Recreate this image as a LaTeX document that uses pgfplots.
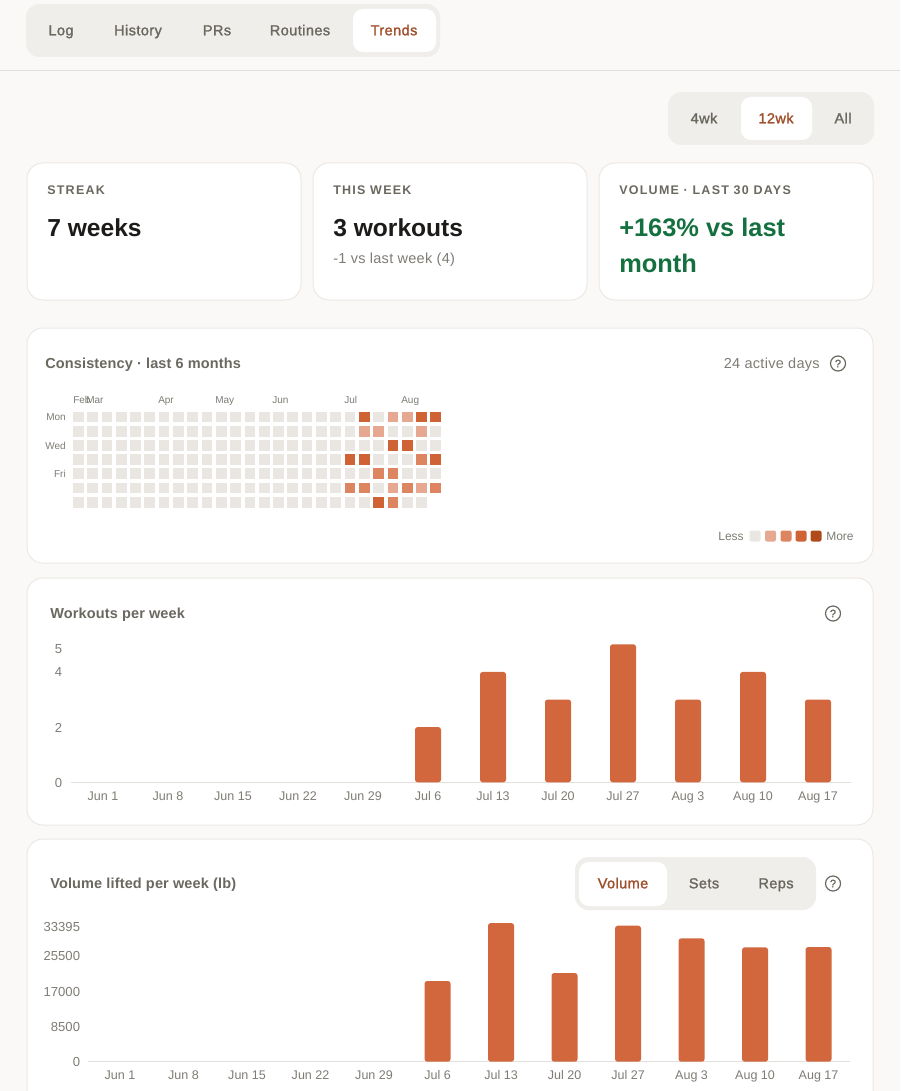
\documentclass[border=0pt]{standalone}
\usepackage{fontspec}
\usepackage{pgfplots}
\pgfplotsset{compat=1.18}
\setmainfont{Liberation Sans}
\newfontfamily\capsf[LetterSpace=10]{Liberation Sans}
\newfontfamily\titf[LetterSpace=1]{Liberation Sans}
\newfontfamily\regf[LetterSpace=2]{Liberation Sans}
\newfontfamily\medf[LetterSpace=3,FakeBold=1.5]{Liberation Sans}
\definecolor{pagebg}{HTML}{FAF9F7}
\definecolor{cardline}{HTML}{ECE9E5}
\definecolor{axline}{HTML}{E3E0DB}
\definecolor{pillbg}{HTML}{EFEEEA}
\definecolor{txt}{HTML}{6B6860}
\definecolor{soft}{HTML}{7F7C75}
\definecolor{accent}{HTML}{A04F2B}
\definecolor{ink}{HTML}{1C1B19}
\definecolor{grn}{HTML}{15703F}
\definecolor{barc}{HTML}{D2663D}
\definecolor{lz}{HTML}{EAE7E2}
\definecolor{la}{HTML}{E6A891}
\definecolor{lb}{HTML}{DD8460}
\definecolor{lc}{HTML}{CF6335}
\definecolor{ld}{HTML}{B04A1B}
\newcommand\T[6]{\node[anchor=#1,inner sep=0pt,text=#5] at (#2,#3) {\fontsize{\fpeval{#4*0.75}pt}{\fpeval{#4*0.9}pt}\selectfont #6};}
\newcommand\Card[4]{\draw[cardline,fill=white,line width=0.75pt,rounded corners=12pt] (#1,#2) rectangle (#3,#4);}
\newcommand\Help[2]{\draw[txt,line width=0.9pt] (#1,#2) circle (7.5);\T{base}{#1}{#2+3.9}{11}{txt}{\medf ?}}
\newcommand\low[1]{\raisebox{-3pt}[\height][\depth]{#1}}
\pgfdeclareplotmark{rsq}{\pgfsetcornersarced{\pgfpoint{1.8pt}{1.8pt}}\pgfpathrectangle{\pgfpoint{-4pt}{-4pt}}{\pgfpoint{8pt}{8pt}}\pgfusepathqfill}
\pgfplotsset{barchart/.style={
  scale only axis, clip=false, anchor=south west,
  axis x line*=bottom, axis y line*=left,
  x axis line style={draw=axline,line width=0.75pt,-},
  y axis line style={draw=none},
  tick style={draw=none}, major tick length=0pt,
  scaled y ticks=false,
  xmin=-0.5, xmax=11.5, ymin=0, xtick={0,...,11},
  xticklabels={Jun 1,Jun 8,Jun 15,Jun 22,Jun 29,Jul 6,Jul 13,Jul 20,Jul 27,Aug 3,Aug 10,Aug 17},
  xticklabel style={font=\fontsize{9.4pt}{11pt}\selectfont,text=soft,inner sep=0pt,anchor=base,yshift=-13.5pt},
  yticklabel style={font=\fontsize{9.8pt}{11pt}\selectfont,text=soft,inner sep=0pt,anchor=east,xshift=-6pt,yshift=-0.3pt},
}}
\begin{document}
\begin{tikzpicture}[x=0.75pt,y=-0.75pt]
\clip[use as bounding box] (0,0) rectangle (900,1091);
\fill[pagebg] (0,0) rectangle (900,1091);
% nav
\draw[axline,line width=0.75pt] (0,70.5) -- (900,70.5);
\fill[pillbg,rounded corners=10pt] (26,4) rectangle (440,57);
\fill[white,rounded corners=7.5pt] (353,9) rectangle (436,52);
\T{base}{61}{35.3}{14.5}{txt}{\medf Log}
\T{base}{138}{35.3}{14.5}{txt}{\medf History}
\T{base}{217}{35.3}{14.5}{txt}{\medf PRs}
\T{base}{300}{35.3}{14.5}{txt}{\medf Routines}
\T{base}{394}{35.3}{14.5}{accent}{\medf Trends}
% range pill
\fill[pillbg,rounded corners=10pt] (668,92) rectangle (874,145);
\fill[white,rounded corners=7.5pt] (741,97) rectangle (812,140);
\T{base}{704}{123.3}{14.5}{txt}{\medf 4wk}
\T{base}{776}{123.3}{14.5}{accent}{\medf 12wk}
\T{base}{843}{123.3}{14.5}{txt}{\medf All}
% stat cards
\Card{27}{163}{301}{300}
\Card{313}{163}{587}{300}
\Card{599}{163}{873}{300}
\T{base west}{47}{195}{12.5}{txt}{\capsf\bfseries STREAK}
\T{base west}{333}{195}{12.5}{txt}{\capsf\bfseries THIS WEEK}
\T{base west}{619}{195}{12.5}{txt}{\capsf\bfseries VOLUME · LAST 30 DAYS}
\T{base west}{47}{236.5}{24.6}{ink}{\bfseries 7 weeks}
\T{base west}{333}{236.5}{24.6}{ink}{\bfseries 3 workouts}
\T{base west}{333}{263}{14.5}{soft}{\regf -1 vs last week (4)}
\T{base west}{619}{236.5}{25.4}{grn}{\bfseries +163\% vs last}
\T{base west}{619}{272.5}{25.4}{grn}{\bfseries month}
% consistency card
\Card{27}{328}{873}{563}
\T{base west}{45}{368}{14.5}{txt}{\titf\bfseries Consistency · last 6 months}
\T{base east}{820}{368.5}{14.5}{soft}{\regf 24 active days}
\Help{838}{363.5}
\T{base west}{73}{403.5}{10}{soft}{Feb}
\T{base west}{86}{403.5}{10}{soft}{Mar}
\T{base west}{158}{403.5}{10}{soft}{Apr}
\T{base west}{215}{403.5}{10}{soft}{May}
\T{base west}{272}{403.5}{10}{soft}{Jun}
\T{base west}{344}{403.5}{10}{soft}{Jul}
\T{base west}{401}{403.5}{10}{soft}{Aug}
\T{base east}{66}{420.5}{10}{soft}{Mon}
\T{base east}{66}{449}{10}{soft}{Wed}
\T{base east}{66}{477.5}{10}{soft}{Fri}
\begin{axis}[at={(53.36pt,-381.98pt)},anchor=south west,scale only axis,
  width=278.85pt,height=74.55pt,hide axis,clip=false,
  xmin=-0.5,xmax=25.5,ymin=-0.5,ymax=6.5,y dir=reverse]
\addplot[only marks,mark=rsq,color=lz] coordinates {
(0,0)(1,0)(2,0)(3,0)(4,0)(5,0)(6,0)(7,0)(8,0)(9,0)(10,0)(11,0)(12,0)(13,0)(14,0)(15,0)(16,0)(17,0)(18,0)(19,0)(21,0)
(0,1)(1,1)(2,1)(3,1)(4,1)(5,1)(6,1)(7,1)(8,1)(9,1)(10,1)(11,1)(12,1)(13,1)(14,1)(15,1)(16,1)(17,1)(18,1)(19,1)(22,1)(23,1)(25,1)
(0,2)(1,2)(2,2)(3,2)(4,2)(5,2)(6,2)(7,2)(8,2)(9,2)(10,2)(11,2)(12,2)(13,2)(14,2)(15,2)(16,2)(17,2)(18,2)(19,2)(20,2)(21,2)(24,2)(25,2)
(0,3)(1,3)(2,3)(3,3)(4,3)(5,3)(6,3)(7,3)(8,3)(9,3)(10,3)(11,3)(12,3)(13,3)(14,3)(15,3)(16,3)(17,3)(18,3)(21,3)(22,3)(23,3)
(0,4)(1,4)(2,4)(3,4)(4,4)(5,4)(6,4)(7,4)(8,4)(9,4)(10,4)(11,4)(12,4)(13,4)(14,4)(15,4)(16,4)(17,4)(18,4)(19,4)(20,4)(23,4)(24,4)(25,4)
(0,5)(1,5)(2,5)(3,5)(4,5)(5,5)(6,5)(7,5)(8,5)(9,5)(10,5)(11,5)(12,5)(13,5)(14,5)(15,5)(16,5)(17,5)(18,5)(21,5)
(0,6)(1,6)(2,6)(3,6)(4,6)(5,6)(6,6)(7,6)(8,6)(9,6)(10,6)(11,6)(12,6)(13,6)(14,6)(15,6)(16,6)(17,6)(18,6)(19,6)(20,6)(23,6)(24,6)
};
\addplot[only marks,mark=rsq,color=la] coordinates {(22,0)(23,0)(20,1)(21,1)(24,1)(22,5)(24,5)};
\addplot[only marks,mark=rsq,color=lb] coordinates {(24,3)(21,4)(22,4)(19,5)(20,5)(23,5)(25,5)(22,6)};
\addplot[only marks,mark=rsq,color=lc] coordinates {(20,0)(24,0)(25,0)(22,2)(23,2)(19,3)(20,3)(25,3)(21,6)};
\end{axis}
\T{base east}{744}{540}{12}{soft}{Less}
\foreach \xx/\cc in {755/lz,770.5/la,786/lb,801/lc,816/ld}{
  \fill[\cc,rounded corners=1.5pt] (\xx-5.5,530.5) rectangle (\xx+5.5,541.5);}
\T{base west}{826}{540}{12}{soft}{More}
% workouts card
\Card{27}{578}{873}{825}
\T{base west}{50}{618}{14.5}{txt}{\titf\bfseries Workouts per week}
\Help{833}{613.5}
\begin{axis}[barchart,at={(52.875pt,-586.725pt)},width=585pt,height=103.5pt,ymax=5,
  ytick={0,2,4,5},yticklabels={0,2,4,\low{5}}]
\addplot[ybar,bar width=19.5pt,fill=barc,draw=none,rounded corners=2pt] coordinates {
(5,2)(6,4)(7,3)(8,5)(9,3)(10,4)(11,3)};
\end{axis}
% volume card
\Card{27}{839}{873}{1120}
\T{base west}{50}{888}{14.5}{txt}{\titf\bfseries Volume lifted per week (lb)}
\fill[pillbg,rounded corners=10pt] (575,857) rectangle (816,910);
\fill[white,rounded corners=7.5pt] (579,862) rectangle (667,906);
\T{base}{623}{888.3}{14.5}{accent}{\medf Volume}
\T{base}{704}{888.3}{14.5}{txt}{\medf Sets}
\T{base}{776}{888.3}{14.5}{txt}{\medf Reps}
\Help{833}{883.5}
\begin{axis}[barchart,at={(66.225pt,-796.275pt)},width=571.5pt,height=104pt,ymax=33395,
  ytick={0,8500,17000,25500,33395},yticklabels={0,8500,17000,25500,\low{33395}}]
\addplot[ybar,bar width=19.5pt,fill=barc,draw=none,rounded corners=2pt] coordinates {
(5,19430)(6,33395)(7,21356)(8,32745)(9,29710)(10,27544)(11,27616)};
\end{axis}
\end{tikzpicture}
\end{document}
